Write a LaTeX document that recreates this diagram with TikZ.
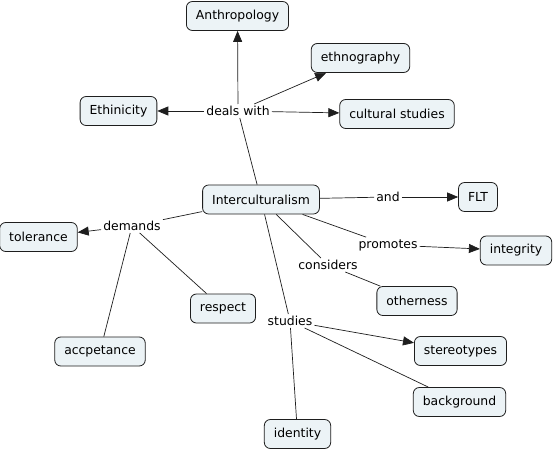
\documentclass[tikz,border=0pt]{standalone}
\usepackage{fontspec}
\setmainfont{DejaVu Sans}
\usetikzlibrary{arrows.meta}
\definecolor{cfill}{RGB}{236,243,246}
\definecolor{cline}{RGB}{30,30,30}
\begin{document}
\begin{tikzpicture}[x=1bp,y=-1bp,
  font=\fontsize{12.4bp}{14bp}\selectfont,
  concept/.style={draw=cline, fill=cfill, rounded corners=6bp, inner xsep=9.5bp,
    minimum height=29bp, line width=0.8bp},
  linkp/.style={inner sep=2bp, fill=white},
  conn/.style={line width=0.7bp, draw=cline},
  arr/.style={conn, -{Triangle[length=11bp,width=9bp]}}]
\useasboundingbox[fill=white] (0,0) rectangle (555,450);

\node[concept] (anth) at (237.5,16) {Anthropology};
\node[concept] (ethno) at (360.5,58) {ethnography};
\node[concept] (ethni) at (118.5,111) {Ethinicity};
\node[linkp] (deals) at (238,111) {deals with};
\node[concept] (cult) at (397,114) {cultural studies};
\node[concept] (inter) at (261,199.5) {Interculturalism};
\node[linkp] (and) at (388,197) {and};
\node[concept] (flt) at (478,197) {FLT};
\node[concept] (tol) at (38.5,237) {tolerance};
\node[linkp] (dem) at (132,226) {demands};
\node[linkp] (prom) at (388,245) {promotes};
\node[concept] (integ) at (516,250.5) {integrity};
\node[linkp] (cons) at (328,265) {considers};
\node[concept] (resp) at (223,308.5) {respect};
\node[concept] (other) at (417,301) {otherness};
\node[concept] (accp) at (100,351.5) {accpetance};
\node[linkp] (stud) at (290,321) {studies};
\node[concept] (stereo) at (460.5,351) {stereotypes};
\node[concept] (back) at (459.5,402) {background};
\node[concept] (ident) at (297.5,434) {identity};

\draw[conn] (inter) -- (deals);
\draw[arr] (deals) -- (anth);
\draw[arr] (deals) -- (ethno);
\draw[arr] (deals) -- (ethni);
\draw[arr] (deals) -- (cult);

\draw[conn] (inter) -- (and);
\draw[arr] (and) -- (flt);

\draw[conn] (inter) -- (dem);
\draw[arr] (dem) -- (tol);
\draw[conn] (dem) -- (accp);
\draw[conn] (dem) -- (resp);

\draw[conn] (inter) -- (prom);
\draw[arr] (prom) -- (integ);

\draw[conn] (inter) -- (cons);
\draw[conn] (cons) -- (other);

\draw[conn] (inter) -- (stud);
\draw[arr] (stud) -- (stereo);
\draw[conn] (stud) -- (back);
\draw[conn] (stud) -- (ident);
\end{tikzpicture}
\end{document}
